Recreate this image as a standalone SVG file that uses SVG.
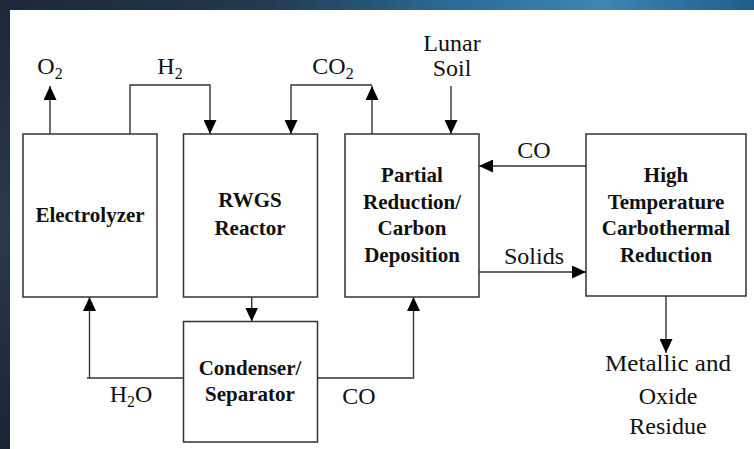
<svg xmlns="http://www.w3.org/2000/svg" width="754" height="449" viewBox="0 0 754 449">
<defs>
<linearGradient id="topband" x1="0" y1="0" x2="1" y2="0">
<stop offset="0" stop-color="#1b2836"/>
<stop offset="0.35" stop-color="#23394f"/>
<stop offset="0.6" stop-color="#2b6b96"/>
<stop offset="0.8" stop-color="#3f86b3"/>
<stop offset="1" stop-color="#1f5c8c"/>
</linearGradient>
<linearGradient id="leftband" x1="0" y1="0" x2="0" y2="1">
<stop offset="0" stop-color="#1c2836"/>
<stop offset="0.5" stop-color="#2a3a4a"/>
<stop offset="1" stop-color="#1a2532"/>
</linearGradient>
<marker id="arr" markerUnits="userSpaceOnUse" markerWidth="14" markerHeight="13" refX="14" refY="6.5" orient="auto">
<path d="M0,0 L14,6.5 L0,13 Z" fill="#000"/>
</marker>
<style>
.box{fill:#fff;stroke:#333;stroke-width:1.5}
.ln{fill:none;stroke:#333;stroke-width:1.4}
.b{font-family:"Liberation Serif","Times New Roman",serif;font-weight:bold;font-size:21px;fill:#111;text-anchor:middle}
.r{font-family:"Liberation Serif","Times New Roman",serif;font-size:24px;fill:#111;text-anchor:middle}
.s{font-size:16px}
</style>
</defs>
<rect x="0" y="0" width="754" height="449" fill="#fff"/>
<rect x="0" y="0" width="754" height="10" fill="url(#topband)"/>
<rect x="0" y="0" width="10" height="449" fill="url(#leftband)"/>

<g id="connectors">
<path class="ln" d="M50,134 V86" marker-end="url(#arr)"/>
<path class="ln" d="M130,134 V85 H210 V134" marker-end="url(#arr)"/>
<path class="ln" d="M372,134 V86" marker-end="url(#arr)"/>
<path class="ln" d="M372,85 H291 V134" marker-end="url(#arr)"/>
<path class="ln" d="M451,86 V134" marker-end="url(#arr)"/>
<path class="ln" d="M586,166 H479" marker-end="url(#arr)"/>
<path class="ln" d="M479,272 H586" marker-end="url(#arr)"/>
<path class="ln" d="M666,296 V353" marker-end="url(#arr)"/>
<path class="ln" d="M251.7,297 V321.5" marker-end="url(#arr)"/>
<path class="ln" d="M183,378 H87"/>
<path class="ln" d="M89.5,378 V297" marker-end="url(#arr)"/>
<path class="ln" d="M317.5,378 H413.5 V297" marker-end="url(#arr)"/>
</g>

<g id="labels">
<text class="r" x="50" y="74">O<tspan class="s" dy="5">2</tspan></text>
<text class="r" x="170" y="74">H<tspan class="s" dy="5">2</tspan></text>
<text class="r" x="333" y="74">CO<tspan class="s" dy="5">2</tspan></text>
<text class="r" x="452" y="51">Lunar</text>
<text class="r" x="452" y="76">Soil</text>
<text class="r" x="534" y="158">CO</text>
<text class="r" x="534" y="264">Solids</text>
<text class="r" x="131" y="402">H<tspan class="s" dy="5">2</tspan><tspan dy="-5">O</tspan></text>
<text class="r" x="359" y="404">CO</text>
<text class="r" x="668" y="371" textLength="126" lengthAdjust="spacingAndGlyphs">Metallic and</text>
<text class="r" x="668" y="404">Oxide</text>
<text class="r" x="668" y="434">Residue</text>
</g>

<g id="electrolyzer">
<rect class="box" x="23" y="134" width="134" height="163"/>
<text class="b" x="90" y="222">Electrolyzer</text>
</g>
<g id="rwgs">
<rect class="box" x="183.5" y="134" width="134" height="163"/>
<text class="b" x="250" y="207">RWGS</text>
<text class="b" x="250" y="235">Reactor</text>
</g>
<g id="partial">
<rect class="box" x="345" y="134" width="134" height="163"/>
<text class="b" x="412" y="182">Partial</text>
<text class="b" x="412" y="208.5">Reduction/</text>
<text class="b" x="412" y="235">Carbon</text>
<text class="b" x="412" y="261.5">Deposition</text>
</g>
<g id="hightemp">
<rect class="box" x="586" y="134" width="160" height="162"/>
<text class="b" x="666" y="182">High</text>
<text class="b" x="666" y="208.5">Temperature</text>
<text class="b" x="666" y="235">Carbothermal</text>
<text class="b" x="666" y="261.5">Reduction</text>
</g>
<g id="condenser">
<rect class="box" x="183.5" y="321.5" width="134" height="120.5"/>
<text class="b" x="250" y="375">Condenser/</text>
<text class="b" x="250" y="401">Separator</text>
</g>
</svg>
